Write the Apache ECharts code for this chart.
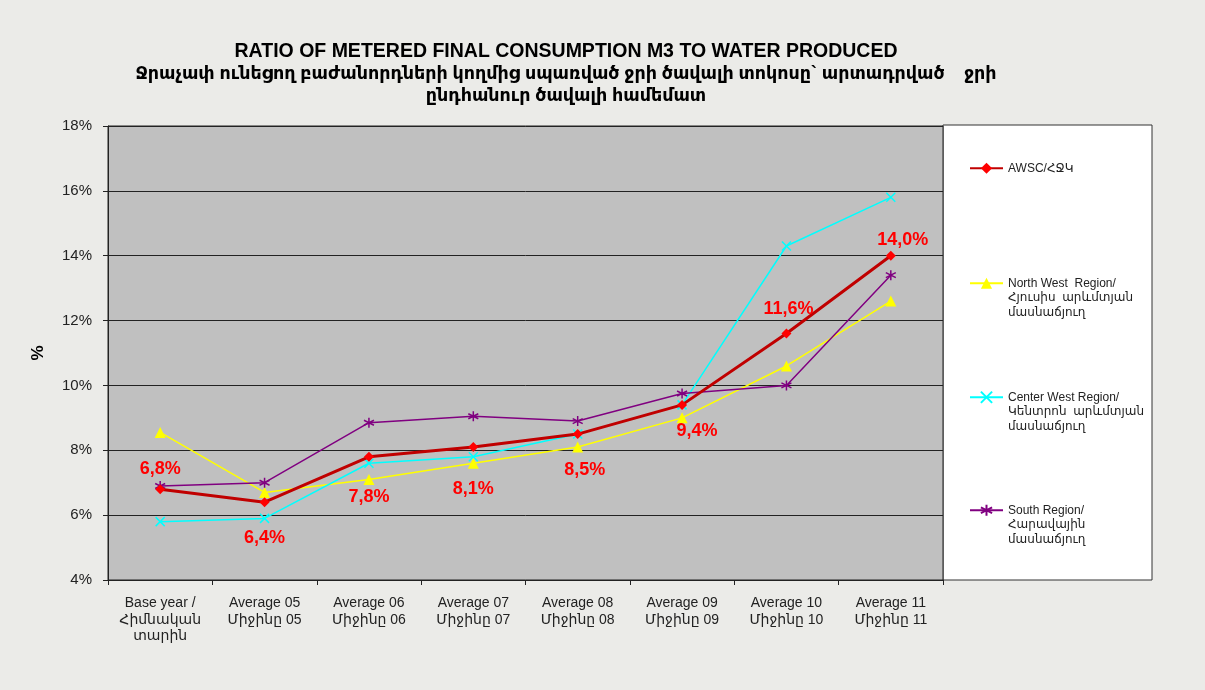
<!DOCTYPE html>
<html>
<head>
<meta charset="utf-8">
<script src="https://cdn.jsdelivr.net/npm/echarts@6/dist/echarts.min.js"></script>
<style>
html,body{margin:0;padding:0;background:#ebebe8;}
#main{width:1205px;height:690px;}
</style>
</head>
<body>
<div id="main"></div>
<script>
const categories = [
  'Base year /\nՀիմնական\nտարին',
  'Average 05\nՄիջինը 05',
  'Average 06\nՄիջինը 06',
  'Average 07\nՄիջինը 07',
  'Average 08\nՄիջինը 08',
  'Average 09\nՄիջինը 09',
  'Average 10\nՄիջինը 10',
  'Average 11\nՄիջինը 11'
];
const seriesNames = [
  'AWSC/ՀՋԿ',
  'North West  Region/\nՀյուսիս  արևմտյան\nմասնաճյուղ',
  'Center West Region/\nԿենտրոն  արևմտյան\nմասնաճյուղ',
  'South Region/\nՀարավային\nմասնաճյուղ'
];
const awsc      = [6.8, 6.4, 7.8, 8.1, 8.5, 9.4, 11.6, 14.0];
const northWest = [8.55, 6.7, 7.1, 7.6, 8.1, 9.0, 10.6, 12.6];
const centerWest= [5.8, 5.9, 7.6, 7.8, 8.5, 9.4, 14.3, 15.8];
const south     = [6.9, 7.0, 8.85, 9.05, 8.9, 9.75, 10.0, 13.4];
const yTicks = {min: 4, max: 18, interval: 2};

const FONT = '"Liberation Sans", Arial, "DejaVu Sans", sans-serif';
const chart = echarts.init(document.getElementById('main'), null, {renderer: 'canvas'});

const fmt = v => v.toFixed(1).replace('.', ',') + '%';
// label placement for AWSC value labels
const lblCfg = [
  {position: 'top', distance: 6},
  {position: 'bottom', distance: 22},
  {position: 'bottom', distance: 26},
  {position: 'bottom', distance: 28},
  {position: 'bottom', distance: 22, offset: [7, 0]},
  {position: 'bottom', distance: 12, offset: [15, 0]},
  {position: 'top', distance: 11, offset: [2, 0]},
  {position: 'top', distance: 2, offset: [12, 0]}
];
const awscData = awsc.map((v, i) => ({value: v, label: lblCfg[i]}));

const asterisk = 'path://M5,0L5,10M0.7,2.5L9.3,7.5M9.3,2.5L0.7,7.5';
const cross = 'path://M0,0L10,10M10,0L0,10';

const legendTops = [168, 283, 397, 510];
function mkLegend(i, lines) {
  const lh = 14.5;
  const extra = lines - 1;
  const top = legendTops[i] - 7 - extra * lh;
  return {
    data: [seriesNames[i]], orient: 'vertical', left: 969, top: top,
    padding: 0, itemWidth: 33, itemHeight: 14, itemGap: 0, selectedMode: false,
    formatter: name => '\n'.repeat(extra) + name,
    textStyle: {fontFamily: FONT, fontSize: 12, color: '#222', lineHeight: lh}
  };
}

const option = {
  backgroundColor: '#ebebe8',
  animation: false,
  title: {
    text: '{a|RATIO OF METERED FINAL CONSUMPTION M3 TO WATER PRODUCED}\n{b|Ջրաչափ ունեցող բաժանորդների կողմից սպառված ջրի ծավալի տոկոսը` արտադրված    ջրի}\n{b|ընդհանուր ծավալի համեմատ}',
    left: 561, top: 35, textAlign: 'center',
    textStyle: {
      rich: {
        a: {fontFamily: FONT, fontSize: 19.5, fontWeight: 'bold', color: '#000', lineHeight: 22.5},
        b: {fontFamily: FONT, fontSize: 17.5, fontWeight: 'bold', color: '#000', lineHeight: 22.5}
      }
    }
  },
  graphic: [{
    type: 'rect', shape: {x: 943, y: 125, width: 209, height: 455},
    style: {fill: '#ffffff', stroke: '#333', lineWidth: 1}, z: -1
  }],
  legend: [mkLegend(0, 1), mkLegend(1, 3), mkLegend(2, 3), mkLegend(3, 3)],
  grid: {left: 108, right: 262, top: 126, bottom: 110, show: true,
    backgroundColor: '#c0c0c0', borderColor: '#222', borderWidth: 1},
  xAxis: {
    type: 'category', data: categories, boundaryGap: true,
    axisLine: {lineStyle: {color: '#222', width: 1}},
    axisTick: {show: true, length: 5, lineStyle: {color: '#222'}},
    axisLabel: {interval: 0, fontFamily: FONT, fontSize: 14, color: '#222', lineHeight: 16.5, margin: 15}
  },
  yAxis: {
    type: 'value', min: yTicks.min, max: yTicks.max, interval: yTicks.interval,
    name: '%', nameLocation: 'middle', nameGap: 61, nameRotate: 90,
    nameTextStyle: {fontFamily: FONT, fontSize: 17, fontWeight: 'bold', color: '#000'},
    axisLine: {show: true, lineStyle: {color: '#222', width: 1}},
    axisTick: {show: true, length: 5, lineStyle: {color: '#222'}},
    axisLabel: {formatter: '{value}%', fontFamily: FONT, fontSize: 15, color: '#222', margin: 16},
    splitLine: {show: true, lineStyle: {color: '#222', width: 1}}
  },
  series: [
    {
      name: seriesNames[0], type: 'line', data: awscData, z: 5,
      symbol: 'diamond', symbolSize: 10,
      lineStyle: {color: '#c00000', width: 3},
      itemStyle: {color: '#ff0000'},
      label: {show: true, formatter: p => fmt(p.value), fontFamily: FONT,
        fontSize: 18, fontWeight: 'bold', color: '#ff0000'}
    },
    {
      name: seriesNames[1], type: 'line', data: northWest, z: 3,
      symbol: 'triangle', symbolSize: 11,
      lineStyle: {color: '#ffff00', width: 1.5},
      itemStyle: {color: '#ffff00'}
    },
    {
      name: seriesNames[2], type: 'line', data: centerWest, z: 4,
      symbol: cross, symbolSize: 9,
      lineStyle: {color: '#00ffff', width: 1.5},
      itemStyle: {color: '#00ffff', borderColor: '#00ffff', borderWidth: 1.5}
    },
    {
      name: seriesNames[3], type: 'line', data: south, z: 4,
      symbol: asterisk, symbolSize: 10,
      lineStyle: {color: '#800080', width: 1.5},
      itemStyle: {color: '#800080', borderColor: '#800080', borderWidth: 1.5}
    }
  ]
};
chart.setOption(option);
</script>
</body>
</html>
